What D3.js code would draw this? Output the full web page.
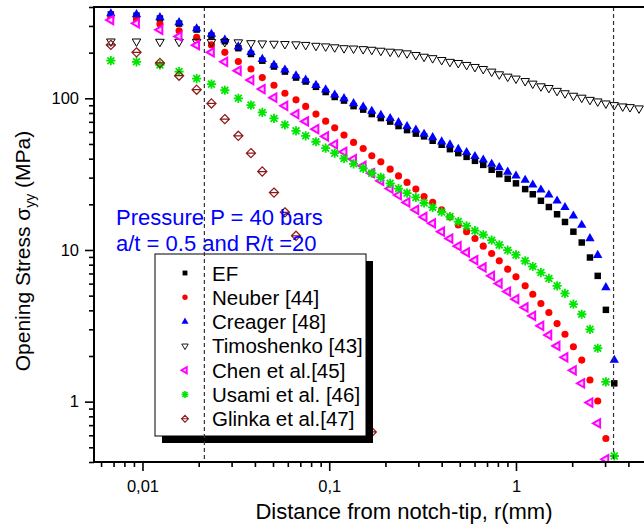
<!DOCTYPE html>
<html>
<head>
<meta charset="utf-8">
<script src="https://cdn.jsdelivr.net/npm/d3@7"></script>
<style>
  html, body { margin: 0; padding: 0; background: #fff; }
  svg { display: block; font-family: "Liberation Sans", Arial, sans-serif; }
</style>
</head>
<body>
<svg id="chart" width="644" height="527"></svg>
<script>
// ---------------- DATA ----------------
// distance from notch-tip r (mm), common grid
const rValues = [0.00677, 0.00929, 0.0124, 0.0157, 0.0195, 0.0234, 0.0276, 0.0326, 0.0381, 0.0438,
  0.0506, 0.0579, 0.0664, 0.0748, 0.0849, 0.0957, 0.107, 0.120, 0.135, 0.152,
  0.169, 0.189, 0.212, 0.235, 0.261, 0.291, 0.322, 0.358, 0.400, 0.443,
  0.491, 0.544, 0.603, 0.668, 0.741, 0.814, 0.903, 1.00, 1.12, 1.23,
  1.36, 1.50, 1.66, 1.83, 2.03, 2.25, 2.49, 2.74, 3.03, 3.36,
  3.73, 4.08, 4.56];

const efValues = [357, 351, 336, 311, 284, 259, 238, 214, 196, 177, 162, 150, 137, 129, 119, 110, 102, 96.6, 88.8, 84.2,
  78.7, 74.0, 70.2, 65.6, 61.7, 58.5, 56.1, 52.5, 49.4, 46.2, 43.5, 41.1, 38.7, 36.4, 33.8, 31.6, 29.5, 27.5, 25.2, 23.3,
  21.1, 19.2, 17.2, 15.3, 13.2, 11.2, 8.92, 6.75, 4.03, 1.32];

const neuberValues = [338, 330, 309, 279, 252, 225, 201, 175, 156, 137, 122, 108, 97.7, 88.4, 78.7, 70.7, 63.9, 57.2, 51.2, 46.7,
  41.8, 38.1, 34.1, 30.8, 27.9, 25.2, 22.5, 20.6, 18.4, 16.5, 14.6, 13.2, 11.9, 10.6, 9.48, 8.48, 7.47, 6.65, 5.80, 5.11,
  4.44, 3.87, 3.27, 2.78, 2.30, 1.88, 1.39, 1.01, 0.571];

const creagerValues = [362, 357, 341, 316, 288, 265, 243, 219, 201, 181, 166, 154, 141, 132, 122, 114, 105.5, 99.8, 92.5, 87.9,
  82.3, 77.5, 73.7, 69.3, 65.3, 62.0, 58.1, 55.2, 51.7, 49.4, 46.2, 44.0, 41.4, 39.3, 36.8, 35.0, 32.7, 30.8, 28.9, 26.9,
  24.9, 23.1, 21.1, 19.1, 16.8, 14.6, 11.9, 9.24, 5.66, 1.88];

const timoshenkoValues = [237, 237, 236, 236, 236, 235, 235, 234, 231, 230, 229, 228, 227, 225, 222, 220, 217, 214, 213, 211,
  209, 206, 203, 201, 198, 193, 188, 184, 179, 174, 171, 166, 161, 156, 150, 144, 139, 135, 130, 125,
  120, 117, 112, 108, 104, 101, 97.7, 95.4, 92.5, 90.2, 88.4, 87.5, 85.8];

const chenValues = [328, 312, 283, 256, 224, 201, 174, 152, 132, 115, 101, 89.2, 78.7, 70.4, 62.6, 56.1, 49.7, 44.4, 39.7, 35.9,
  32.1, 28.6, 25.4, 23.0, 20.6, 18.4, 16.5, 15.0, 13.2, 11.9, 10.6, 9.63, 8.56, 7.67, 6.75, 6.01, 5.32, 4.74, 4.18, 3.68,
  3.16, 2.75, 2.33, 1.96, 1.61, 1.32, 0.986, 0.720, 0.417];

const usamiValues = [177, 174, 166, 150, 135, 124, 113, 100, 90.2, 80.7, 73.7, 66.9, 61.0, 56.6, 51.7, 46.9, 43.5, 40.1, 37.0, 34.5,
  32.1, 30.1, 27.5, 25.4, 23.7, 22.2, 20.4, 19.1, 17.8, 16.6, 15.4, 14.4, 13.4, 12.6, 11.6, 10.8, 9.97, 9.28, 8.48, 7.78,
  7.10, 6.49, 5.80, 5.17, 4.39, 3.77, 3.00, 2.25, 1.35, 0.438];

const glinkaValues = [225, 201, 171, 141, 114, 92.5, 72.9, 56.6, 43.5, 32.9, 23.9, 17.7, 12.4, 8.70, 6.04, 4.20, 2.91, 2.02, 1.41, 0.947, 0.631];

const seriesNames = ["EF", "Neuber [44]", "Creager [48]", "Timoshenko [43]", "Chen et al.[45]", "Usami et al. [46]", "Glinka et al.[47]"];

const xMajorTicks = [0.01, 0.1, 1];
const xTickLabels = ["0,01", "0,1", "1"];
const xMinorTicks = [0.006, 0.007, 0.008, 0.009, 0.02, 0.03, 0.04, 0.05, 0.06, 0.07, 0.08, 0.09,
  0.2, 0.3, 0.4, 0.5, 0.6, 0.7, 0.8, 0.9, 2, 3, 4];
const yMajorTicks = [1, 10, 100];
const yTickLabels = ["1", "10", "100"];
const yMinorTicks = [0.4, 0.5, 0.6, 0.7, 0.8, 0.9, 2, 3, 4, 5, 6, 7, 8, 9, 20, 30, 40, 50, 60, 70, 80, 90, 200, 300, 400];

const dashedLineR = [0.02145, 3.33];

const xTitle = "Distance from notch-tip, r(mm)";
const noteLines = ["Pressure P = 40 bars", "a/t = 0.5 and R/t =20"];

// ---------------- LAYOUT ----------------
const svg = d3.select("#chart");
const L = 94, T = 7, B = 462, Rvis = 644;
const x = d3.scaleLog().domain([0.0055, 5]).range([L, 646.5]);
const y = d3.scaleLog().domain([0.4, 400]).range([B, T]);

svg.append("defs").append("clipPath").attr("id", "plotclip")
  .append("rect").attr("x", L).attr("y", T).attr("width", Rvis - L).attr("height", B - T);

// symbol path generators
const sym = {
  square: s => d3.symbol(d3.symbolSquare, 42 * s * s)(),
  circle: s => d3.symbol(d3.symbolCircle, 40 * s * s)(),
  tri: s => d3.symbol(d3.symbolTriangle, 38 * s * s)(),
  dtri: s => d3.symbol(d3.symbolTriangle, 32 * s * s)(),
  ltri: s => d3.symbol(d3.symbolTriangle, 30 * s * s)(),
  star: s => {
    const r = 4.6 * s, d = 3.4 * s;
    return `M${-r},0L${r},0M0,${-r}L0,${r}M${-d},${-d}L${d},${d}M${-d},${d}L${d},${-d}`;
  },
  diamond: s => {
    const r = 4.6 * s;
    return `M0,${-r}L${r},0L0,${r}L${-r},0ZM${-r},0L${r},0`;
  }
};

const seriesStyles = [
  { values: efValues, shape: "square", rot: 0, fill: "#000", stroke: "none", sw: 0 },
  { values: neuberValues, shape: "circle", rot: 0, fill: "#ff0000", stroke: "none", sw: 0 },
  { values: creagerValues, shape: "tri", rot: 0, fill: "#0000ff", stroke: "none", sw: 0 },
  { values: timoshenkoValues, shape: "dtri", rot: 180, fill: "none", stroke: "#000", sw: 1 },
  { values: chenValues, shape: "ltri", rot: -90, fill: "#ffd0ff", stroke: "#ff00ff", sw: 2 },
  { values: usamiValues, shape: "star", rot: 0, fill: "none", stroke: "#00e600", sw: 1.8 },
  { values: glinkaValues, shape: "diamond", rot: 0, fill: "none", stroke: "#8b1a1a", sw: 1.2 }
];

// ---------------- POINTS ----------------
const plot = svg.append("g").attr("clip-path", "url(#plotclip)");
seriesStyles.forEach((st, si) => {
  const pts = st.values.map((v, i) => ({ r: rValues[i], v }));
  plot.append("g").selectAll("path").data(pts).join("path")
    .attr("d", sym[st.shape](1))
    .attr("transform", d => `translate(${x(d.r)},${y(d.v)}) rotate(${st.rot})`)
    .attr("fill", st.fill).attr("stroke", st.stroke).attr("stroke-width", st.sw);
});

// ---------------- ANNOTATION ----------------
svg.append("g").selectAll("text").data(noteLines).join("text")
  .attr("x", 116).attr("y", (d, i) => 225 + i * 26)
  .attr("font-size", 22).attr("fill", "#0000ff").text(d => d);

// ---------------- LEGEND ----------------
const lg = { x: 155, y: 254, w: 211, h: 182 };
svg.append("rect").attr("x", lg.x + 7).attr("y", lg.y + 7).attr("width", lg.w).attr("height", lg.h).attr("fill", "#000");
svg.append("rect").attr("x", lg.x).attr("y", lg.y).attr("width", lg.w).attr("height", lg.h)
  .attr("fill", "#fff").attr("stroke", "#000").attr("stroke-width", 1);
const rows = svg.append("g").selectAll("g").data(seriesNames).join("g")
  .attr("transform", (d, i) => `translate(0,${273 + i * 24.3})`);
rows.append("path")
  .attr("d", (d, i) => sym[seriesStyles[i].shape](0.75))
  .attr("transform", (d, i) => `translate(185,0) rotate(${seriesStyles[i].rot})`)
  .attr("fill", (d, i) => seriesStyles[i].fill)
  .attr("stroke", (d, i) => seriesStyles[i].stroke)
  .attr("stroke-width", (d, i) => seriesStyles[i].sw * 0.9);
rows.append("text").attr("x", 212).attr("y", 7.5).attr("font-size", 20.5).attr("fill", "#000").text(d => d);

// ---------------- DASHED LINES ----------------
svg.append("g").selectAll("line").data(dashedLineR).join("line")
  .attr("x1", d => x(d)).attr("x2", d => x(d)).attr("y1", T).attr("y2", B)
  .attr("stroke", "#333").attr("stroke-width", 1.2).attr("stroke-dasharray", "4,3");

// ---------------- AXES ----------------
function styleAxis(g) {
  g.select(".domain").remove();
  g.selectAll(".tick line").attr("stroke", "#000").attr("stroke-width", 1.6);
  g.selectAll(".tick text").attr("fill", "#000").attr("font-size", 16.5)
    .attr("font-family", "'Liberation Sans', Arial, sans-serif");
}
svg.append("g").attr("transform", `translate(0,${B})`)
  .call(d3.axisBottom(x).tickValues(xMinorTicks).tickSize(5).tickFormat(""))
  .call(styleAxis);
svg.append("g").attr("transform", `translate(0,${B})`)
  .call(d3.axisBottom(x).tickValues(xMajorTicks).tickSize(9).tickPadding(9)
    .tickFormat((d, i) => xTickLabels[i]))
  .call(styleAxis);
svg.append("g").attr("transform", `translate(${L},0)`)
  .call(d3.axisLeft(y).tickValues(yMinorTicks).tickSize(5).tickFormat(""))
  .call(styleAxis);
svg.append("g").attr("transform", `translate(${L},0)`)
  .call(d3.axisLeft(y).tickValues(yMajorTicks).tickSize(9).tickPadding(6)
    .tickFormat((d, i) => yTickLabels[i]))
  .call(styleAxis);

// frame lines
svg.append("line").attr("x1", L).attr("x2", L).attr("y1", T - 1).attr("y2", B + 1).attr("stroke", "#000").attr("stroke-width", 2);
svg.append("line").attr("x1", L - 1).attr("x2", Rvis).attr("y1", B).attr("y2", B).attr("stroke", "#000").attr("stroke-width", 2);
svg.append("line").attr("x1", L - 1).attr("x2", Rvis).attr("y1", T).attr("y2", T).attr("stroke", "#000").attr("stroke-width", 2);

// axis titles
svg.append("text").attr("x", 404).attr("y", 519).attr("text-anchor", "middle")
  .attr("font-size", 22).attr("fill", "#000").text(xTitle);
const yt = svg.append("text").attr("transform", "translate(30,251) rotate(-90)")
  .attr("text-anchor", "middle").attr("font-size", 21).attr("fill", "#000");
yt.append("tspan").text("Opening Stress σ");
yt.append("tspan").attr("font-size", 14).attr("dy", 5).text("yy");
yt.append("tspan").attr("dy", -5).text(" (MPa)");
</script>
</body>
</html>
